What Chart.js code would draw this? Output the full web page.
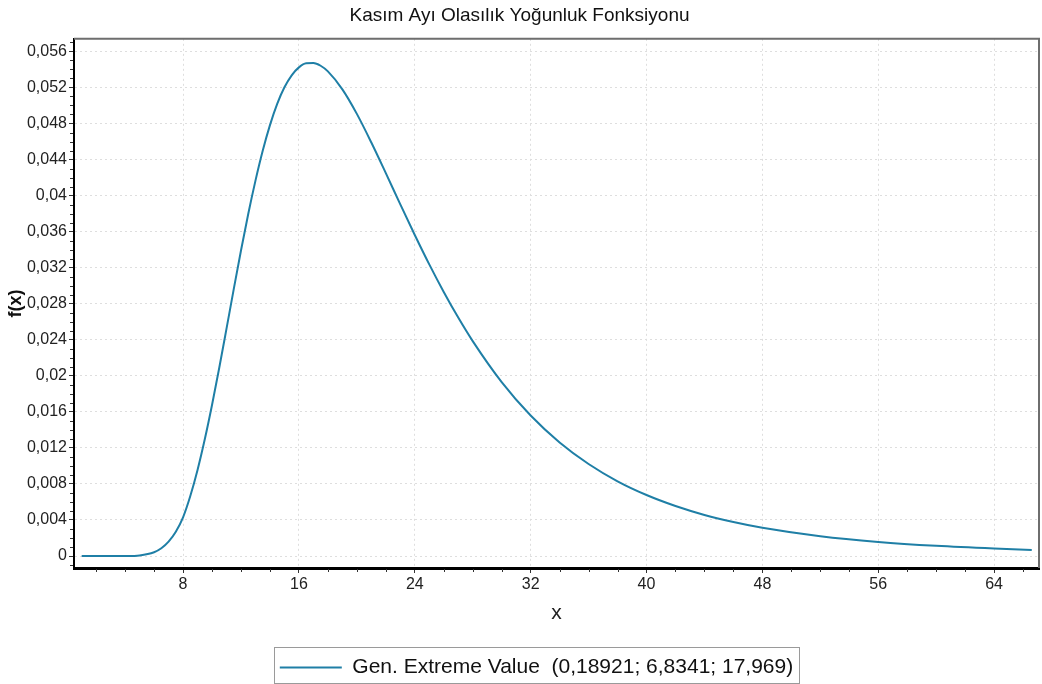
<!DOCTYPE html>
<html>
<head>
<meta charset="utf-8">
<script src="https://cdn.jsdelivr.net/npm/chart.js@4.4.1/dist/chart.umd.min.js"></script>
<style>
html,body{margin:0;padding:0;background:#fff}
</style>
</head>
<body>
<canvas id="grafik" width="1042" height="684"></canvas>
<script>
// x values and f(x)
const xVals=[1,2,3,4,5,6,6.5,7,7.5,8,8.5,9,9.5,10,10.5,11,11.5,12,12.5,13,13.5,14,14.5,15,15.5,16,16.5,17,17.5,18,19,20,21,22,23,24,25,26,27,28,30,32,34,36,38,40,42,44,46,48,52,56,60,64,66.6]
const fx=[0,0,0,0.000006,0.00007,0.00042,0.00086,0.0016,0.0027,0.0043,0.00666,0.00955,0.01295,0.01676,0.0209,0.02523,0.02962,0.0339,0.03796,0.04166,0.04497,0.04782,0.05018,0.05202,0.05335,0.05423,0.05468,0.05471,0.05441,0.05378,0.05179,0.04907,0.04589,0.04249,0.03903,0.03563,0.03237,0.02931,0.02646,0.02385,0.0193,0.01559,0.0126,0.01021,0.00829,0.00677,0.00555,0.00456,0.00377,0.00313,0.00219,0.00156,0.00113,0.00083,0.00068]

const xTicks=[8,16,24,32,40,48,56,64]
const yTicks=[0,0.004,0.008,0.012,0.016,0.02,0.024,0.028,0.032,0.036,0.04,0.044,0.048,0.052,0.056]

const judul="Kasım Ayı Olasılık Yoğunluk Fonksiyonu"
const labelSeri="Gen. Extreme Value  (0,18921; 6,8341; 17,969)"

const FONT="'Liberation Sans',Arial,sans-serif"
const warna="#1f7fa6"

let titik=xVals.map((x,i)=>({x:x,y:fx[i]}))

// top/right frame, minor ticks, legend box
const bingkai={
id:"bingkai",
afterLayout(chart){
// legend sits a little right of centre in the reference
chart.legend.left+=17
chart.legend.right+=17
},
afterDraw(chart){
let ctx=chart.ctx
let a=chart.chartArea
let sx=chart.scales.x
let sy=chart.scales.y

ctx.save()
ctx.strokeStyle="#6e6e6e"
ctx.lineWidth=2
ctx.beginPath()
ctx.moveTo(a.left,a.top)
ctx.lineTo(a.right,a.top)
ctx.lineTo(a.right,a.bottom)
ctx.stroke()

ctx.strokeStyle="#333"
ctx.lineWidth=1
ctx.beginPath()
for(let v=2;v<sx.max;v+=2){
if(v%8==0) continue
let p=Math.round(sx.getPixelForValue(v))+0.5
ctx.moveTo(p,a.bottom+1)
ctx.lineTo(p,a.bottom+4)
}
for(let k=-1;k<=57;k++){
if(k%4==0) continue
let v=k/1000
if(v<sy.min||v>sy.max) continue
let p=Math.round(sy.getPixelForValue(v))+0.5
ctx.moveTo(a.left-1,p)
ctx.lineTo(a.left-4,p)
}
ctx.stroke()

let hb=chart.legend.legendHitBoxes[0]
if(hb){
let cy=hb.top+hb.height/2
let bawah=Math.min(cy+16,chart.height-2)
ctx.strokeStyle="#9a9a9a"
ctx.lineWidth=1
ctx.strokeRect(Math.round(hb.left-6)+0.5,Math.round(cy-21)+0.5,Math.round(hb.width+12),Math.round(bawah-(cy-21)))
}
ctx.restore()
}
}

new Chart(document.getElementById("grafik"),{

type:"line",

data:{
datasets:[{
label:labelSeri,
data:titik,
borderColor:warna,
backgroundColor:warna,
borderWidth:2,
pointRadius:0,
tension:0.4,
cubicInterpolationMode:"monotone",
fill:false
}]
},

options:{
responsive:false,
animation:false,
devicePixelRatio:1,
layout:{padding:{left:0,right:3,top:0,bottom:-4}},
plugins:{
title:{
display:true,
text:judul,
color:"#111",
font:{family:FONT,size:19,weight:"normal"},
padding:{top:4,bottom:12}
},
legend:{
position:"bottom",
labels:{
usePointStyle:true,
pointStyle:"line",
pointStyleWidth:62,
color:"#111",
font:{family:FONT,size:21},
padding:3
}
},
tooltip:{enabled:false}
},
scales:{
x:{
type:"linear",
min:0.47,
max:67.1,
afterBuildTicks:s=>{s.ticks=xTicks.map(v=>({value:v}))},
afterFit:s=>{s.height=86},
ticks:{
color:"#222",
font:{family:FONT,size:16},
padding:2,
maxRotation:0
},
grid:{
color:"#dedede",
tickColor:"#333",
tickLength:5,
lineWidth:1
},
border:{color:"#000",width:3,dash:[2,3]},
title:{
display:true,
text:"x",
color:"#222",
font:{family:FONT,size:21},
padding:{top:0,bottom:28}
}
},
y:{
type:"linear",
min:-0.00133,
max:0.0574,
afterBuildTicks:s=>{s.ticks=yTicks.map(v=>({value:v}))},
afterFit:s=>{s.width=74},
ticks:{
color:"#222",
font:{family:FONT,size:16},
padding:2,
callback:v=>String(v).replace(".",",")
},
grid:{
color:"#dedede",
tickColor:"#333",
tickLength:5,
lineWidth:1
},
border:{color:"#000",width:2,dash:[2,3]},
title:{
display:true,
text:"f(x)",
color:"#111",
font:{family:FONT,size:18,weight:"bold"},
padding:{top:5,bottom:5}
}
}
}
},

plugins:[bingkai]

})
</script>
</body>
</html>
